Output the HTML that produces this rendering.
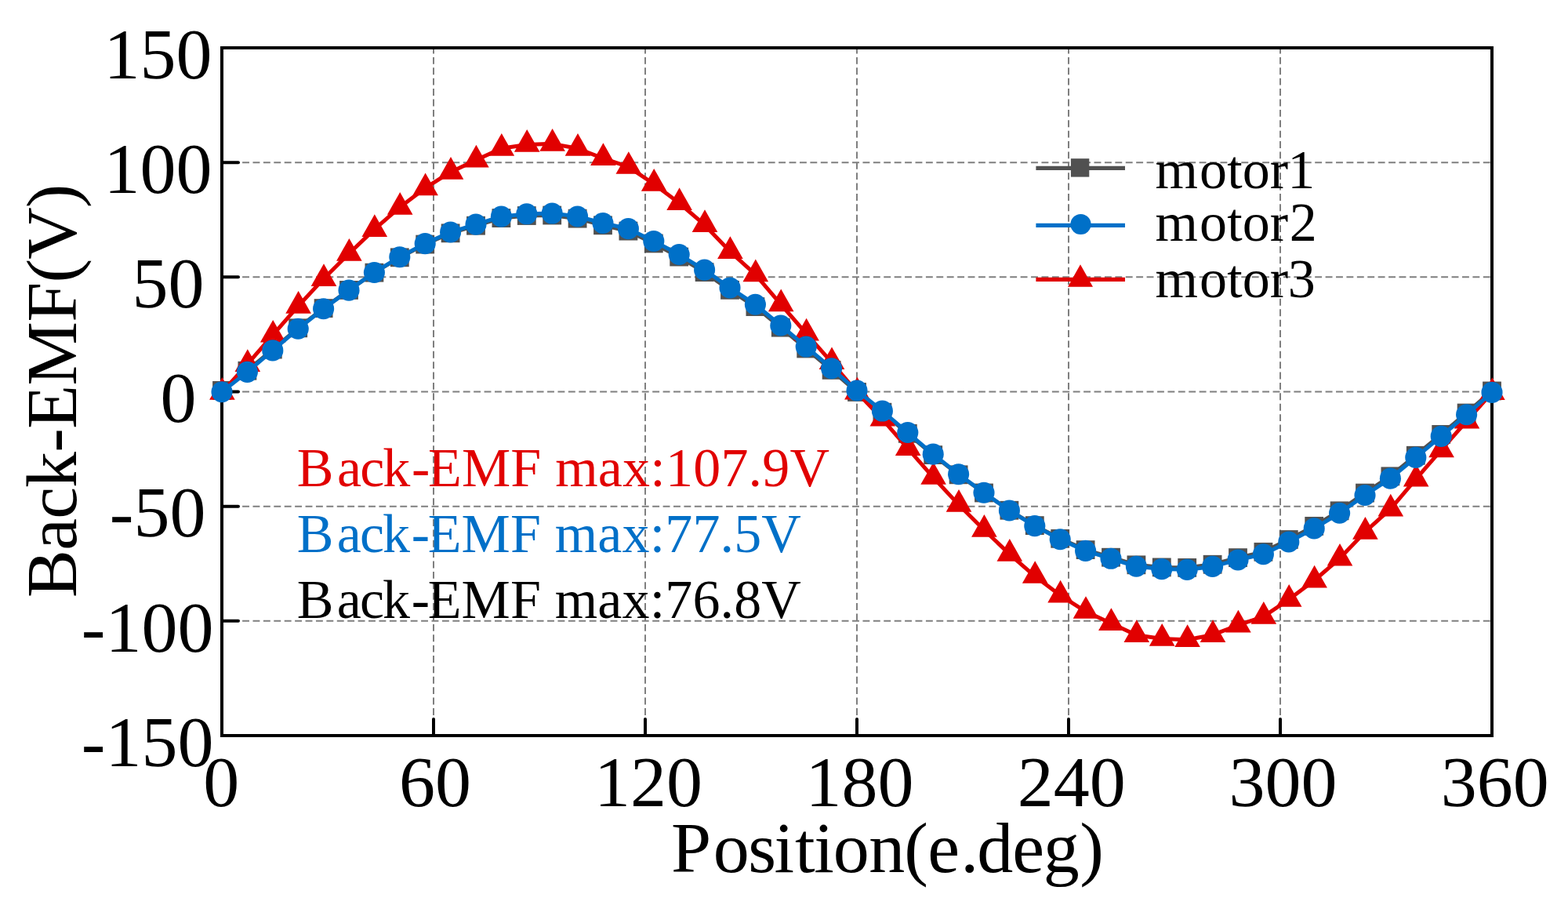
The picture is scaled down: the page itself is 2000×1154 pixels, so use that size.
<!DOCTYPE html>
<html lang="en"><head><meta charset="utf-8"><title>Back-EMF</title>
<style>html,body{margin:0;padding:0;background:#fff}body{width:2000px;height:1154px;overflow:hidden}svg{display:block}text{font-family:"Liberation Serif",serif;}</style></head><body>
<svg width="2000" height="1154" viewBox="0 0 2000 1154">
<rect x="0" y="0" width="2000" height="1154" fill="#fff"/>
<g stroke="#7f7f7f" stroke-width="2" stroke-dasharray="8.9 4.513" fill="none">
<line x1="553" y1="61" x2="553" y2="938" stroke-dasharray="8.9 4.488" stroke-dashoffset="1.45"/>
<line x1="823" y1="61" x2="823" y2="938" stroke-dasharray="8.9 4.488" stroke-dashoffset="1.45"/>
<line x1="1093" y1="61" x2="1093" y2="938" stroke-dasharray="8.9 4.488" stroke-dashoffset="1.45"/>
<line x1="1363" y1="61" x2="1363" y2="938" stroke-dasharray="8.9 4.488" stroke-dashoffset="1.45"/>
<line x1="1633" y1="61" x2="1633" y2="938" stroke-dasharray="8.9 4.488" stroke-dashoffset="1.45"/>
<line x1="283" y1="207.17" x2="1903" y2="207.17" stroke-dashoffset="0.75"/>
<line x1="283" y1="353.33" x2="1903" y2="353.33" stroke-dashoffset="0.75"/>
<line x1="283" y1="499.5" x2="1903" y2="499.5" stroke-dashoffset="0.75"/>
<line x1="283" y1="645.67" x2="1903" y2="645.67" stroke-dashoffset="0.75"/>
<line x1="283" y1="791.83" x2="1903" y2="791.83" stroke-dashoffset="0.75"/>
</g>
<g stroke="#000" stroke-width="4" fill="none">
<rect x="283" y="61" width="1620" height="877"/>
<line x1="553" y1="938" x2="553" y2="917" stroke-linecap="round"/>
<line x1="823" y1="938" x2="823" y2="917" stroke-linecap="round"/>
<line x1="1093" y1="938" x2="1093" y2="917" stroke-linecap="round"/>
<line x1="1363" y1="938" x2="1363" y2="917" stroke-linecap="round"/>
<line x1="1633" y1="938" x2="1633" y2="917" stroke-linecap="round"/>
<line x1="283" y1="207.17" x2="304" y2="207.17" stroke-linecap="round"/>
<line x1="283" y1="353.33" x2="304" y2="353.33" stroke-linecap="round"/>
<line x1="283" y1="499.5" x2="304" y2="499.5" stroke-linecap="round"/>
<line x1="283" y1="645.67" x2="304" y2="645.67" stroke-linecap="round"/>
<line x1="283" y1="791.83" x2="304" y2="791.83" stroke-linecap="round"/>
</g>
<g font-size="92" fill="#000">
<text x="270.4" y="100.26" text-anchor="end">150</text>
<text x="270.48" y="246.2" text-anchor="end">100</text>
<text x="260.48" y="392" text-anchor="end">50</text>
<text x="250.4" y="538.26" text-anchor="end">0</text>
<text x="262.48" y="684" text-anchor="end">-50</text>
<text x="272.48" y="831.2" text-anchor="end">-100</text>
<text x="272.44" y="977.4" text-anchor="end">-150</text>
<text x="282.26" y="1028.1" text-anchor="middle">0</text>
<text x="554.88" y="1028.1" text-anchor="middle">60</text>
<text x="826.88" y="1028.1" text-anchor="middle">120</text>
<text x="1096.54" y="1028.1" text-anchor="middle">180</text>
<text x="1366.7" y="1028.1" text-anchor="middle">240</text>
<text x="1636.54" y="1028.1" text-anchor="middle">300</text>
<text x="1906.7" y="1028.1" text-anchor="middle">360</text>
</g>
<text x="856.11" y="1111.75" dx="0 2.9 -0.8 -2.1 1.5 -0.75 -0.75 0 -0.5 0 1.7 -1.6 -0.35 -0.75 1" font-size="92" letter-spacing="-0.526" fill="#000">Position(e.deg)</text>
<text transform="translate(97.1 762.25) rotate(-90)" font-size="92" letter-spacing="-0.89" fill="#000">Back-EMF(V)</text>
<g font-size="70">
<text x="378.71" y="619.8" dx="0 4.3 -2 -2.3 1.5 -2.5" letter-spacing="0.207" fill="#E10000">Back-EMF max:107.9V</text>
<text x="378.71" y="704.3" dx="0 4.3 -2 -2.3 1.5 -2.5" letter-spacing="0.152" fill="#0070C8">Back-EMF max:77.5V</text>
<text x="378.71" y="788.1" dx="0 4.3 -2 -2.3 1.5 -2.5" letter-spacing="0.152" fill="#000">Back-EMF max:76.8V</text>
</g>
<g>
<polyline points="283,497.89 315.4,472.73 347.8,445.58 380.2,418.31 412.6,393.1 445,369.94 477.4,347.67 509.8,328.31 542.2,311.58 574.6,297.32 607,287.71 639.4,278.1 671.8,275.01 704.2,274.53 736.6,278.67 769,287.29 801.4,294.6 833.8,310.43 866.2,327.55 898.6,347.11 931,369.83 963.4,391.08 995.8,417.65 1028.2,444.49 1060.6,471.87 1093,499.95 1125.4,525.69 1157.8,552.84 1190.2,580.11 1222.6,605.32 1255,628.48 1287.4,650.75 1319.8,670.11 1352.2,686.84 1384.6,701.1 1417,710.71 1449.4,720.32 1481.8,723.41 1514.2,723.89 1546.6,719.75 1579,711.13 1611.4,703.82 1643.8,687.99 1676.2,670.87 1708.6,651.31 1741,628.59 1773.4,607.34 1805.8,580.77 1838.2,553.93 1870.6,526.55 1903,498.47" fill="none" stroke="#515151" stroke-width="5" stroke-linejoin="round" stroke-linecap="round"/>
<g fill="#515151"><rect x="271.1" y="485.99" width="23.8" height="23.8"/><rect x="303.5" y="460.83" width="23.8" height="23.8"/><rect x="335.9" y="433.68" width="23.8" height="23.8"/><rect x="368.3" y="406.41" width="23.8" height="23.8"/><rect x="400.7" y="381.2" width="23.8" height="23.8"/><rect x="433.1" y="358.04" width="23.8" height="23.8"/><rect x="465.5" y="335.77" width="23.8" height="23.8"/><rect x="497.9" y="316.41" width="23.8" height="23.8"/><rect x="530.3" y="299.68" width="23.8" height="23.8"/><rect x="562.7" y="285.42" width="23.8" height="23.8"/><rect x="595.1" y="275.81" width="23.8" height="23.8"/><rect x="627.5" y="266.2" width="23.8" height="23.8"/><rect x="659.9" y="263.11" width="23.8" height="23.8"/><rect x="692.3" y="262.63" width="23.8" height="23.8"/><rect x="724.7" y="266.77" width="23.8" height="23.8"/><rect x="757.1" y="275.39" width="23.8" height="23.8"/><rect x="789.5" y="282.7" width="23.8" height="23.8"/><rect x="821.9" y="298.53" width="23.8" height="23.8"/><rect x="854.3" y="315.65" width="23.8" height="23.8"/><rect x="886.7" y="335.21" width="23.8" height="23.8"/><rect x="919.1" y="357.93" width="23.8" height="23.8"/><rect x="951.5" y="379.18" width="23.8" height="23.8"/><rect x="983.9" y="405.75" width="23.8" height="23.8"/><rect x="1016.3" y="432.59" width="23.8" height="23.8"/><rect x="1048.7" y="459.97" width="23.8" height="23.8"/><rect x="1081.1" y="488.05" width="23.8" height="23.8"/><rect x="1113.5" y="513.79" width="23.8" height="23.8"/><rect x="1145.9" y="540.94" width="23.8" height="23.8"/><rect x="1178.3" y="568.21" width="23.8" height="23.8"/><rect x="1210.7" y="593.42" width="23.8" height="23.8"/><rect x="1243.1" y="616.58" width="23.8" height="23.8"/><rect x="1275.5" y="638.85" width="23.8" height="23.8"/><rect x="1307.9" y="658.21" width="23.8" height="23.8"/><rect x="1340.3" y="674.94" width="23.8" height="23.8"/><rect x="1372.7" y="689.2" width="23.8" height="23.8"/><rect x="1405.1" y="698.81" width="23.8" height="23.8"/><rect x="1437.5" y="708.42" width="23.8" height="23.8"/><rect x="1469.9" y="711.51" width="23.8" height="23.8"/><rect x="1502.3" y="711.99" width="23.8" height="23.8"/><rect x="1534.7" y="707.85" width="23.8" height="23.8"/><rect x="1567.1" y="699.23" width="23.8" height="23.8"/><rect x="1599.5" y="691.92" width="23.8" height="23.8"/><rect x="1631.9" y="676.09" width="23.8" height="23.8"/><rect x="1664.3" y="658.97" width="23.8" height="23.8"/><rect x="1696.7" y="639.41" width="23.8" height="23.8"/><rect x="1729.1" y="616.69" width="23.8" height="23.8"/><rect x="1761.5" y="595.44" width="23.8" height="23.8"/><rect x="1793.9" y="568.87" width="23.8" height="23.8"/><rect x="1826.3" y="542.03" width="23.8" height="23.8"/><rect x="1858.7" y="514.65" width="23.8" height="23.8"/><rect x="1891.1" y="486.57" width="23.8" height="23.8"/></g>
<polyline points="283,500.38 315.4,464.71 347.8,427.29 380.2,390.46 412.6,355.67 445,323.52 477.4,292.67 509.8,264.46 542.2,239.91 574.6,219.44 607,204.24 639.4,189.33 671.8,184.51 704.2,183.34 736.6,189.33 769,201.76 801.4,212.57 833.8,234.5 866.2,258.76 898.6,286.68 931,320.59 963.4,349.83 995.8,387.83 1028.2,425.1 1060.6,461.79 1093,500.08 1125.4,534.29 1157.8,571.71 1190.2,608.54 1222.6,643.33 1255,675.48 1287.4,706.33 1319.8,734.54 1352.2,759.09 1384.6,779.56 1417,794.76 1449.4,809.67 1481.8,814.49 1514.2,815.66 1546.6,809.67 1579,797.24 1611.4,786.43 1643.8,764.5 1676.2,740.24 1708.6,712.32 1741,678.41 1773.4,649.17 1805.8,611.17 1838.2,573.9 1870.6,537.21 1903,500.67" fill="none" stroke="#E10000" stroke-width="5" stroke-linejoin="round" stroke-linecap="round"/>
<g fill="#E10000"><path d="M283.4 480.98L299.7 509.68L267.1 509.68Z"/><path d="M315.8 445.31L332.1 474.01L299.5 474.01Z"/><path d="M348.2 407.89L364.5 436.59L331.9 436.59Z"/><path d="M380.6 371.06L396.9 399.76L364.3 399.76Z"/><path d="M413 336.27L429.3 364.97L396.7 364.97Z"/><path d="M445.4 304.12L461.7 332.82L429.1 332.82Z"/><path d="M477.8 273.27L494.1 301.97L461.5 301.97Z"/><path d="M510.2 245.06L526.5 273.76L493.9 273.76Z"/><path d="M542.6 220.51L558.9 249.21L526.3 249.21Z"/><path d="M575 200.04L591.3 228.74L558.7 228.74Z"/><path d="M607.4 184.84L623.7 213.54L591.1 213.54Z"/><path d="M639.8 169.93L656.1 198.63L623.5 198.63Z"/><path d="M672.2 165.11L688.5 193.81L655.9 193.81Z"/><path d="M704.6 163.94L720.9 192.64L688.3 192.64Z"/><path d="M737 169.93L753.3 198.63L720.7 198.63Z"/><path d="M769.4 182.36L785.7 211.06L753.1 211.06Z"/><path d="M801.8 193.17L818.1 221.87L785.5 221.87Z"/><path d="M834.2 215.1L850.5 243.8L817.9 243.8Z"/><path d="M866.6 239.36L882.9 268.06L850.3 268.06Z"/><path d="M899 267.28L915.3 295.98L882.7 295.98Z"/><path d="M931.4 301.19L947.7 329.89L915.1 329.89Z"/><path d="M963.8 330.43L980.1 359.13L947.5 359.13Z"/><path d="M996.2 368.43L1012.5 397.13L979.9 397.13Z"/><path d="M1028.6 405.7L1044.9 434.4L1012.3 434.4Z"/><path d="M1061 442.39L1077.3 471.09L1044.7 471.09Z"/><path d="M1093.4 480.68L1109.7 509.38L1077.1 509.38Z"/><path d="M1125.8 514.89L1142.1 543.59L1109.5 543.59Z"/><path d="M1158.2 552.31L1174.5 581.01L1141.9 581.01Z"/><path d="M1190.6 589.14L1206.9 617.84L1174.3 617.84Z"/><path d="M1223 623.93L1239.3 652.63L1206.7 652.63Z"/><path d="M1255.4 656.08L1271.7 684.78L1239.1 684.78Z"/><path d="M1287.8 686.93L1304.1 715.63L1271.5 715.63Z"/><path d="M1320.2 715.14L1336.5 743.84L1303.9 743.84Z"/><path d="M1352.6 739.69L1368.9 768.39L1336.3 768.39Z"/><path d="M1385 760.16L1401.3 788.86L1368.7 788.86Z"/><path d="M1417.4 775.36L1433.7 804.06L1401.1 804.06Z"/><path d="M1449.8 790.27L1466.1 818.97L1433.5 818.97Z"/><path d="M1482.2 795.09L1498.5 823.79L1465.9 823.79Z"/><path d="M1514.6 796.26L1530.9 824.96L1498.3 824.96Z"/><path d="M1547 790.27L1563.3 818.97L1530.7 818.97Z"/><path d="M1579.4 777.84L1595.7 806.54L1563.1 806.54Z"/><path d="M1611.8 767.03L1628.1 795.73L1595.5 795.73Z"/><path d="M1644.2 745.1L1660.5 773.8L1627.9 773.8Z"/><path d="M1676.6 720.84L1692.9 749.54L1660.3 749.54Z"/><path d="M1709 692.92L1725.3 721.62L1692.7 721.62Z"/><path d="M1741.4 659.01L1757.7 687.71L1725.1 687.71Z"/><path d="M1773.8 629.77L1790.1 658.47L1757.5 658.47Z"/><path d="M1806.2 591.77L1822.5 620.47L1789.9 620.47Z"/><path d="M1838.6 554.5L1854.9 583.2L1822.3 583.2Z"/><path d="M1871 517.81L1887.3 546.51L1854.7 546.51Z"/><path d="M1903.4 481.27L1919.7 509.97L1887.1 509.97Z"/></g>
<polyline points="283,499.79 315.4,474.36 347.8,446.88 380.2,419.25 412.6,393.68 445,370.14 477.4,347.49 509.8,327.75 542.2,310.65 574.6,296.04 607,286.1 639.4,276.16 671.8,272.8 704.2,272.06 736.6,276.01 769,284.49 801.4,291.65 833.8,307.44 866.2,324.54 898.6,344.12 931,366.93 963.4,388.27 995.8,415.02 1028.2,442.06 1060.6,469.68 1093,498.04 1125.4,524.06 1157.8,551.54 1190.2,579.16 1222.6,604.74 1255,628.27 1287.4,650.93 1319.8,670.66 1352.2,687.76 1384.6,702.38 1417,712.32 1449.4,722.26 1481.8,725.62 1514.2,726.35 1546.6,722.4 1579,713.93 1611.4,706.76 1643.8,690.98 1676.2,673.88 1708.6,654.29 1741,631.49 1773.4,610.15 1805.8,583.4 1838.2,556.36 1870.6,528.73 1903,500.38" fill="none" stroke="#0070C8" stroke-width="5" stroke-linejoin="round" stroke-linecap="round"/>
<g fill="#0070C8"><circle cx="283" cy="499.79" r="13.55"/><circle cx="315.4" cy="474.36" r="13.55"/><circle cx="347.8" cy="446.88" r="13.55"/><circle cx="380.2" cy="419.25" r="13.55"/><circle cx="412.6" cy="393.68" r="13.55"/><circle cx="445" cy="370.14" r="13.55"/><circle cx="477.4" cy="347.49" r="13.55"/><circle cx="509.8" cy="327.75" r="13.55"/><circle cx="542.2" cy="310.65" r="13.55"/><circle cx="574.6" cy="296.04" r="13.55"/><circle cx="607" cy="286.1" r="13.55"/><circle cx="639.4" cy="276.16" r="13.55"/><circle cx="671.8" cy="272.8" r="13.55"/><circle cx="704.2" cy="272.06" r="13.55"/><circle cx="736.6" cy="276.01" r="13.55"/><circle cx="769" cy="284.49" r="13.55"/><circle cx="801.4" cy="291.65" r="13.55"/><circle cx="833.8" cy="307.44" r="13.55"/><circle cx="866.2" cy="324.54" r="13.55"/><circle cx="898.6" cy="344.12" r="13.55"/><circle cx="931" cy="366.93" r="13.55"/><circle cx="963.4" cy="388.27" r="13.55"/><circle cx="995.8" cy="415.02" r="13.55"/><circle cx="1028.2" cy="442.06" r="13.55"/><circle cx="1060.6" cy="469.68" r="13.55"/><circle cx="1093" cy="498.04" r="13.55"/><circle cx="1125.4" cy="524.06" r="13.55"/><circle cx="1157.8" cy="551.54" r="13.55"/><circle cx="1190.2" cy="579.16" r="13.55"/><circle cx="1222.6" cy="604.74" r="13.55"/><circle cx="1255" cy="628.27" r="13.55"/><circle cx="1287.4" cy="650.93" r="13.55"/><circle cx="1319.8" cy="670.66" r="13.55"/><circle cx="1352.2" cy="687.76" r="13.55"/><circle cx="1384.6" cy="702.38" r="13.55"/><circle cx="1417" cy="712.32" r="13.55"/><circle cx="1449.4" cy="722.26" r="13.55"/><circle cx="1481.8" cy="725.62" r="13.55"/><circle cx="1514.2" cy="726.35" r="13.55"/><circle cx="1546.6" cy="722.4" r="13.55"/><circle cx="1579" cy="713.93" r="13.55"/><circle cx="1611.4" cy="706.76" r="13.55"/><circle cx="1643.8" cy="690.98" r="13.55"/><circle cx="1676.2" cy="673.88" r="13.55"/><circle cx="1708.6" cy="654.29" r="13.55"/><circle cx="1741" cy="631.49" r="13.55"/><circle cx="1773.4" cy="610.15" r="13.55"/><circle cx="1805.8" cy="583.4" r="13.55"/><circle cx="1838.2" cy="556.36" r="13.55"/><circle cx="1870.6" cy="528.73" r="13.55"/><circle cx="1903" cy="500.38" r="13.55"/></g>
</g>
<line x1="1321.4" y1="214.4" x2="1435" y2="214.4" stroke="#515151" stroke-width="5.2"/><g fill="#515151"><rect x="1365.9" y="202.2" width="23.4" height="23.4"/></g>
<line x1="1321.4" y1="287.4" x2="1435" y2="287.4" stroke="#0070C8" stroke-width="5.2"/><g fill="#0070C8"><circle cx="1378.5" cy="286" r="13.1"/></g>
<line x1="1321.4" y1="356.4" x2="1435" y2="356.4" stroke="#E10000" stroke-width="5.2"/><g fill="#E10000"><path d="M1378 337.3L1394 365.8L1362 365.8Z"/></g>
<g font-size="70" fill="#000" letter-spacing="0.1">
<text x="1473.5" y="240" dx="0 2 0 0 0 -1">motor1</text>
<text x="1473.5" y="307" dx="0 2 0 0 0 1.5">motor2</text>
<text x="1473.5" y="379" dx="0 2 0 0 0 -0.5">motor3</text>
</g>
</svg></body></html>
